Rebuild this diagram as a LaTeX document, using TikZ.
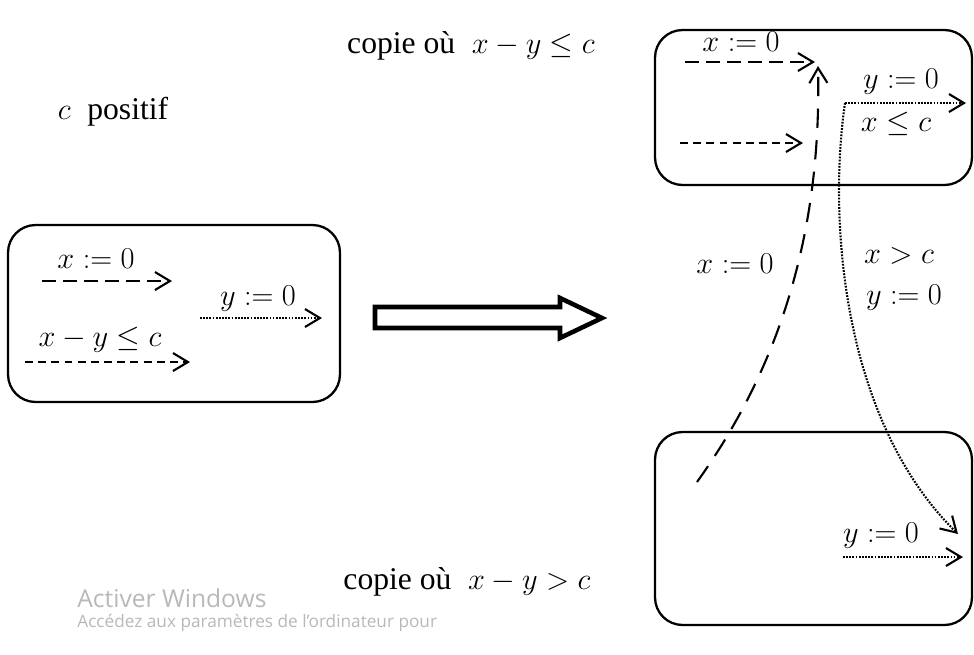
\documentclass[tikz,border=0pt]{standalone}
\usepackage{fontspec}
\setmainfont{Liberation Serif}
\newfontfamily\winfont{Open Sans}
\usetikzlibrary{arrows.meta}

\tikzset{
    box/.style={draw, line width=1.3pt, rounded corners=0.55cm, minimum width=6.34cm},
    lbl/.style={inner sep=1pt, font=\fontsize{17}{20}\selectfont},
    longdash/.style={dash pattern=on 8pt off 4pt},
    shortdash/.style={dash pattern=on 4.5pt off 3pt},
    dots/.style={dash pattern=on 1pt off 0.8pt},
}

\begin{document}
\begin{tikzpicture}[x=0.02cm, y=-0.02cm]
\useasboundingbox (0,0) rectangle (974,654);

% the three boxes
\node[box, minimum width=6.64cm, minimum height=3.54cm] (orig) at (174,313.5) {};
\node[box, minimum height=3.1cm] (copyle) at (813.5,107.5) {};
\node[box, minimum height=3.86cm] (copygt) at (813.5,528.5) {};

% titles
\begin{scope}[every node/.style={font=\fontsize{18}{21}\selectfont}]
    \node (tle) at (471,46) {copie où\; $x-y\le c$};
    \node (tgt) at (467,582) {copie où\; $x-y> c$};
    \node (cpos) at (113,112) {$c$\; positif};
\end{scope}

% arrow ends
\coordinate (o1s) at (42,281);  \coordinate (o1e) at (172,281);
\coordinate (o2s) at (200,318); \coordinate (o2e) at (322,318);
\coordinate (o3s) at (25,362);  \coordinate (o3e) at (190,362);
\coordinate (u1s) at (685,62);  \coordinate (u1e) at (815,62);
\coordinate (u2s) at (680,143); \coordinate (u2e) at (803,143);
\coordinate (u3s) at (845,103); \coordinate (u3e) at (966,103);
\coordinate (d3s) at (843,557); \coordinate (d3e) at (963,557);
\coordinate (xs) at (697,482);  \coordinate (xe) at (818,66);
\coordinate (ye) at (958,534);

\begin{scope}[line width=1.2pt, -{Straight Barb[length=3mm, width=3.6mm, line width=1.2pt]}]
    \draw[longdash] (o1s) -- (o1e);
    \draw[dots] (o2s) -- (o2e);
    \draw[shortdash] (o3s) -- (o3e);
    \draw[longdash] (u1s) -- (u1e);
    \draw[shortdash] (u2s) -- (u2e);
    \draw[dots] (u3s) -- (u3e);
    \draw[dots] (d3s) -- (d3e);
    \draw[dash pattern=on 11pt off 7pt] (xs) .. controls (770,380) and (822,250) .. (xe);
    \draw[dots] (u3s) .. controls (828,220) and (842,420) .. (ye);
\end{scope}

% labels
\begin{scope}[every node/.style={lbl}]
    \node (lo1) at (96,259) {$x:=0$};
    \node (lo2) at (258,299) {$y:=0$};
    \node (lo3) at (100,340) {$x-y\le c$};
    \node (lu1) at (741,42) {$x:=0$};
    \node (lu3) at (901,82) {$y:=0$};
    \node (lu4) at (896,124) {$x\le c$};
    \node (ld3) at (881,536) {$y:=0$};
    \node (lx) at (735,264) {$x:=0$};
    \node (lg1) at (899,256) {$x>c$};
    \node (lg2) at (904,298) {$y:=0$};
\end{scope}

% big hollow arrow
\draw[line width=2.6pt, line join=miter] (375,307) -- (560,307) -- (560,298) -- (602,318)
    -- (560,338) -- (560,328) -- (375,328) -- cycle;

% watermark
\node[anchor=west, text=black!28, font=\winfont\fontsize{14}{16}\selectfont, inner sep=0pt] (wm1) at (77,598) {Activer Windows};
\node[anchor=west, text=black!28, font=\winfont\fontsize{9.8}{11}\selectfont, inner sep=0pt] (wm2) at (77,623) {Accédez aux paramètres de l’ordinateur pour};

\end{tikzpicture}
\end{document}
